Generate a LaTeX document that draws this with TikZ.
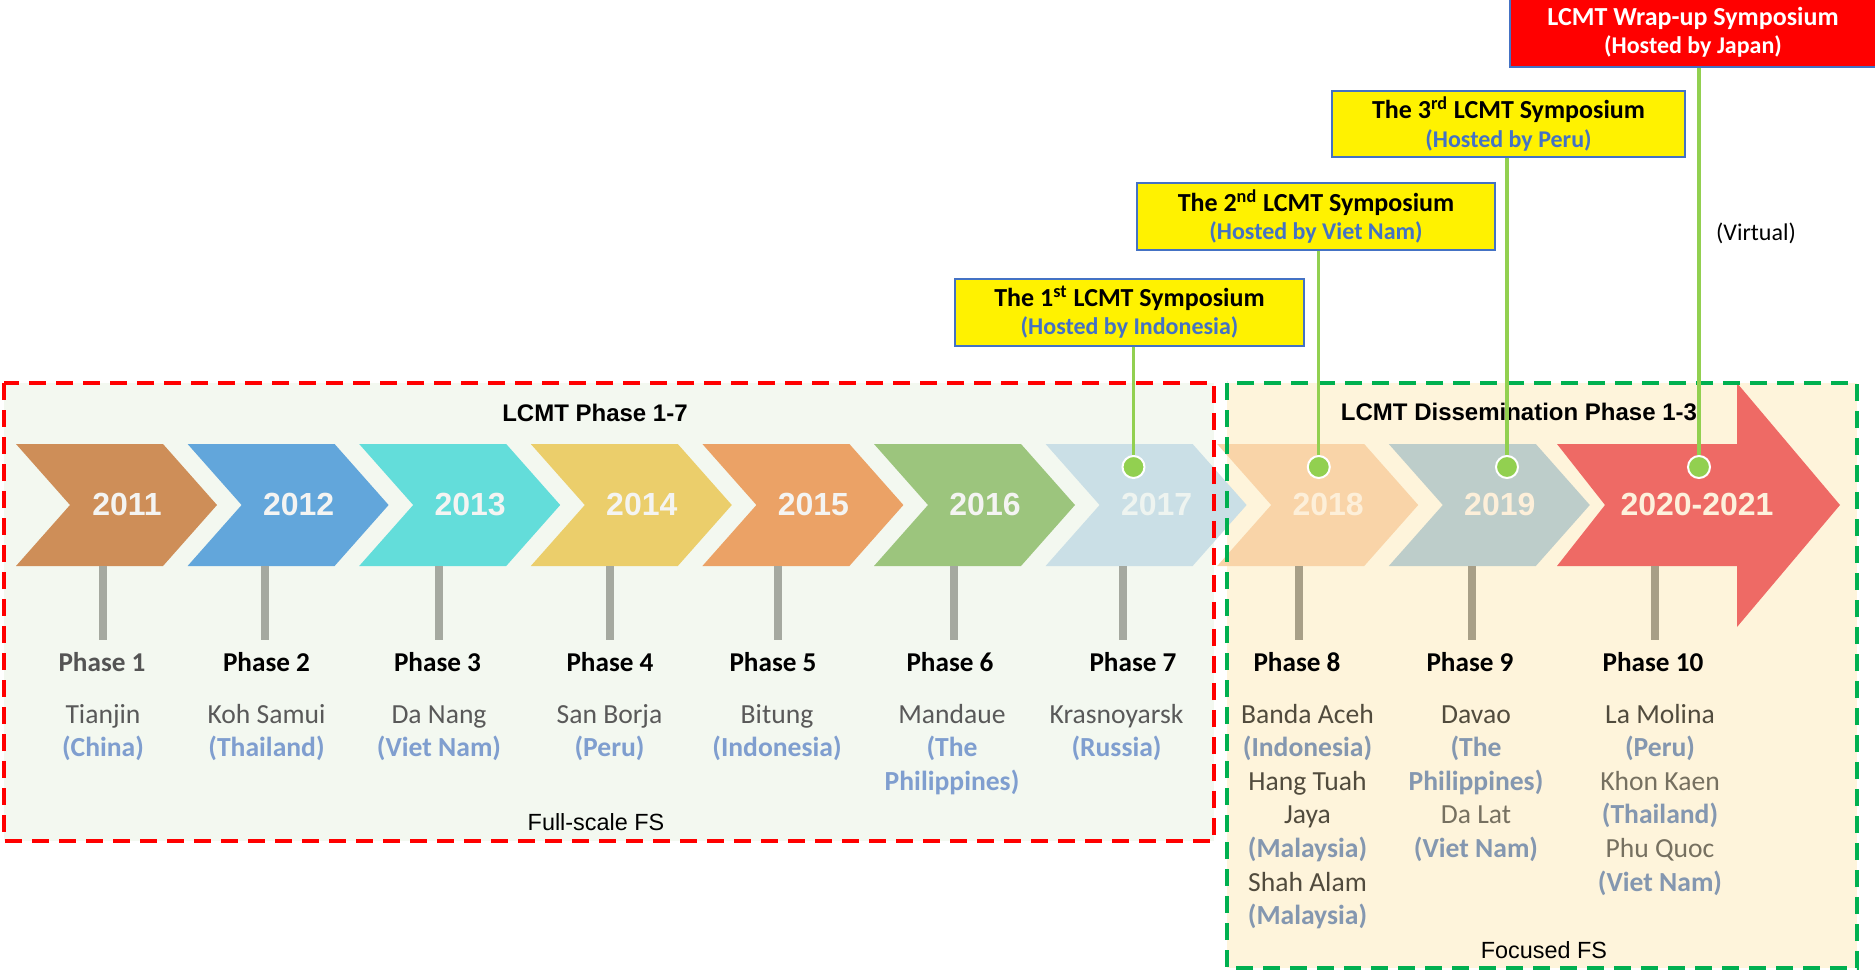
\documentclass[tikz,border=0pt]{standalone}
\usepackage{fontspec}
\setmainfont{Carlito}
\newfontfamily\arialf{Liberation Sans}
\definecolor{c2011}{HTML}{CE8E58}
\definecolor{c2012}{HTML}{62A6DB}
\definecolor{c2013}{HTML}{63DDDA}
\definecolor{c2014}{HTML}{EBCE6B}
\definecolor{c2015}{HTML}{EBA266}
\definecolor{c2016}{HTML}{9CC57D}
\definecolor{c2017}{HTML}{CADFE6}
\definecolor{c2018}{HTML}{F9D4A8}
\definecolor{c2019}{HTML}{BDCDCA}
\definecolor{c2020}{HTML}{EE6A65}
\definecolor{ytw}{HTML}{F4F4F2}
\definecolor{yt17}{HTML}{EEF4F0}
\definecolor{yt18}{HTML}{FDEFD9}
\definecolor{yt20}{HTML}{FDF1DC}
\definecolor{lbg}{HTML}{F3F8F0}
\definecolor{ybg}{HTML}{FEF4DB}
\definecolor{dred}{HTML}{FF0000}
\definecolor{dgreen}{HTML}{00B050}
\definecolor{lgreen}{HTML}{92D050}
\definecolor{boxblue}{HTML}{4472C4}
\definecolor{hostblue}{HTML}{4472C4}
\definecolor{bargray}{HTML}{A5A9A0}
\definecolor{bartan}{HTML}{A89F87}
\definecolor{plgray}{HTML}{595959}
\definecolor{plbrown}{HTML}{514B3D}
\definecolor{plbrownl}{HTML}{767060}
\definecolor{ctyL}{HTML}{7F9ECF}
\definecolor{ctyR}{HTML}{8497B0}
\definecolor{phone}{HTML}{545454}
\newcommand\PlL[1]{\textcolor{plgray}{#1}}
\newcommand\PlR[1]{\textcolor{plbrown}{#1}}
\newcommand\PlRl[1]{\textcolor{plbrownl}{#1}}
\newcommand\CtL[1]{\textcolor{ctyL}{\bfseries #1}}
\newcommand\CtR[1]{\textcolor{ctyR}{\bfseries #1}}
\tikzset{
  yeartxt/.style={font=\arialf\bfseries\fontsize{16}{18}\selectfont, inner sep=0pt},
  phasetxt/.style={font=\bfseries\fontsize{13.6}{16}\selectfont, anchor=base, inner sep=0pt},
  placetxt/.style={font=\fontsize{13.8}{16}\selectfont, anchor=base, inner sep=0pt},
  symbox/.style={draw=boxblue, line width=0.6pt, fill=yellow, align=center, inner sep=0pt,
     font=\bfseries\fontsize{13}{14.2}\selectfont},
  symlink/.style={draw=lgreen, line width=1.6pt},
  stopdot/.style={circle, fill=lgreen, draw=white, line width=1pt, minimum size=11pt, inner sep=0pt},
  stembar/.style={line width=4pt},
  titletxt/.style={font=\arialf\bfseries\fontsize{12}{14}\selectfont},
  fstxt/.style={font=\arialf\fontsize{11.7}{14}\selectfont},
  boxborder/.style={line width=2pt, dash pattern=on 8.5pt off 5pt},
}
\begin{document}
\begin{tikzpicture}[x=0.5pt,y=-0.5pt]
\useasboundingbox (0,0) rectangle (1875,970);
% background panels
\fill[lbg] (4,383) rectangle (1214,841);
\fill[ybg] (1227,383) rectangle (1857,968);
% chevrons
\foreach \L/\cc/\yr/\tc in {16/c2011/2011/ytw, 187.6/c2012/2012/ytw, 359.2/c2013/2013/ytw,
  530.8/c2014/2014/ytw, 702.4/c2015/2015/ytw, 874/c2016/2016/ytw, 1045.6/c2017/2017/yt17,
  1217.2/c2018/2018/yt18, 1388.8/c2019/2019/yt18} {
  \fill[\cc] (\L,444) -- ({\L+147},444) -- ({\L+201},505) -- ({\L+147},566) -- (\L,566) -- ({\L+54},505) -- cycle;
  \node[yeartxt, text=\tc] (y\yr) at ({\L+111},504) {\yr};
}
\fill[c2020] (1557,444) -- (1737,444) -- (1737,383) -- (1840,505) -- (1737,627) -- (1737,566) -- (1557,566) -- (1605,505) -- cycle;
\node[yeartxt, text=yt20] (y2020) at (1697,504) {2020-2021};
% stems
\foreach \x/\cc in {103/bargray, 265/bargray, 439/bargray, 610/bargray, 778/bargray, 954/bargray,
  1123/bargray, 1299/bartan, 1472/bartan, 1654.5/bartan}
  \draw[stembar, \cc] (\x,566) -- (\x,640);
% dashed borders
\draw[boxborder, dred] (4,383) rectangle (1214,841);
\draw[boxborder, dgreen] (1227,383) rectangle (1857,968);
% titles
\node[titletxt] (t1) at (595,413) {LCMT Phase 1-7};
\node[titletxt] (t2) at (1519,412) {LCMT Dissemination Phase 1-3};
\node[fstxt] (f1) at (596,822) {Full-scale FS};
\node[fstxt] (f2) at (1544,950) {Focused FS};
% symposium boxes
\node[symbox, minimum width=174.5pt, minimum height=33.5pt] (b1) at (1129.5,312.5)
  {The 1\textsuperscript{st} LCMT Symposium\\{\fontsize{12}{14.2}\selectfont\color{hostblue}(Hosted by Indonesia)}};
\node[symbox, minimum width=179pt, minimum height=33.5pt] (b2) at (1316,216.5)
  {The 2\textsuperscript{nd} LCMT Symposium\\{\fontsize{12}{14.2}\selectfont\color{hostblue}(Hosted by Viet Nam)}};
\node[symbox, minimum width=176.5pt, minimum height=33pt] (b3) at (1508.5,124)
  {The 3\textsuperscript{rd} LCMT Symposium\\{\fontsize{12}{14.2}\selectfont\color{hostblue}(Hosted by Peru)}};
\node[symbox, fill=red, text=white, minimum width=183pt, minimum height=34.5pt] (bw) at (1693,32.5)
  {LCMT Wrap-up Symposium\\{\fontsize{12}{14.2}\selectfont(Hosted by Japan)}};
\node[font=\fontsize{12}{14}\selectfont] (virt) at (1756,233) {(Virtual)};
% dots and links
\node[stopdot] (d1) at (1133.5,467) {};
\node[stopdot] (d2) at (1318.8,467) {};
\node[stopdot] (d3) at (1507,467) {};
\node[stopdot] (d4) at (1699,467) {};
\draw[symlink] (b1.south -| d1) -- (d1.north);
\draw[symlink] (b2.south -| d2) -- (d2.north);
\draw[symlink] (b3.south -| d3) -- (d3.north);
\draw[symlink] (bw.south -| d4) -- (d4.north);
% phase labels
\node[phasetxt, text=phone] (ph1) at (102,671) {Phase 1};
\foreach \x/\n in {266.5/2, 437.5/3, 610/4, 773/5, 950/6, 1133/7, 1297/8, 1470/9, 1653/10}
  \node[phasetxt] (ph\n) at (\x,671) {Phase \n};
% places
\foreach \x/\k/\lines in {
  103/1/{\PlL{Tianjin},\CtL{(China)}},
  266.5/2/{\PlL{Koh Samui},\CtL{(Thailand)}},
  439/3/{\PlL{Da Nang},\CtL{(Viet Nam)}},
  609.5/4/{\PlL{San Borja},\CtL{(Peru)}},
  777/5/{\PlL{Bitung},\CtL{(Indonesia)}},
  952/6/{\PlL{Mandaue},\CtL{(The},\CtL{Philippines)}},
  1116.5/7/{\PlL{Krasnoyarsk},\CtL{(Russia)}},
  1307.5/8/{\PlR{Banda Aceh},\CtR{(Indonesia)},\PlR{Hang Tuah},\PlR{Jaya},\CtR{(Malaysia)},\PlR{Shah Alam},\CtR{(Malaysia)}},
  1476/9/{\PlR{Davao},\CtR{(The},\CtR{Philippines)},\PlRl{Da Lat},\CtR{(Viet Nam)}},
  1660/10/{\PlR{La Molina},\CtR{(Peru)},\PlRl{Khon Kaen},\CtR{(Thailand)},\PlRl{Phu Quoc},\CtR{(Viet Nam)}}} {
  \foreach \t [count=\i] in \lines
    \node[placetxt] (pl\k-\i) at (\x,{723+33.6*(\i-1)}) {\t};
}
\end{tikzpicture}
\end{document}
